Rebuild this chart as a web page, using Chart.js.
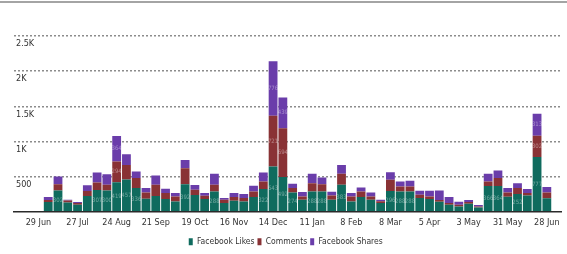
<!DOCTYPE html>
<html>
<head>
<meta charset="utf-8">
<script src="https://cdn.jsdelivr.net/npm/chart.js@4"></script>
<style>
    html, body { margin: 0; padding: 0; background: #fff; overflow: hidden; }
    .frame { position: relative; width: 567px; height: 254px; }
    .topline { position: absolute; left: 0; top: 1px; width: 567px; border-top: 2px solid #a4a4a4; }
    canvas { position: absolute; left: 0; top: 0; }
</style>
</head>
<body>
<div class="frame">
    <div class="topline"></div>
    <canvas id="myChart" width="567" height="254"></canvas>
</div>
<script>
const weeks = ['15 Jun', '22 Jun', '29 Jun', '6 Jul', '13 Jul', '20 Jul', '27 Jul', '3 Aug', '10 Aug', '17 Aug',
    '24 Aug', '31 Aug', '7 Sep', '14 Sep', '21 Sep', '28 Sep', '5 Oct', '12 Oct', '19 Oct', '26 Oct',
    '2 Nov', '9 Nov', '16 Nov', '23 Nov', '30 Nov', '7 Dec', '14 Dec', '21 Dec', '28 Dec', '4 Jan',
    '11 Jan', '18 Jan', '25 Jan', '1 Feb', '8 Feb', '15 Feb', '22 Feb', '1 Mar', '8 Mar', '15 Mar',
    '22 Mar', '29 Mar', '5 Apr', '12 Apr', '19 Apr', '26 Apr', '3 May', '10 May', '17 May', '24 May',
    '31 May', '7 Jun', '14 Jun', '21 Jun', '28 Jun', '5 Jul'];

const likes = [null, null, null,
    138, 302, 132, 100, 222, 307, 300, 419, 457, 336, 185, 225, 180, 146, 392, 238,
    180, 288, 123, 156, 146, 208, 322, 643, 492, 274, 170, 288, 288, 170, 383, 146,
    208, 170, 123, 296, 288, 288, 194, 180, 140, 100, 75, 113, 61, 366, 364, 211,
    252, 231, 777, 190, null];

const comments = [null, null, null,
    30, 90, 28, 23, 71, 108, 83, 294, 209, 142, 89, 158, 85, 71, 227, 74,
    47, 95, 47, 52, 48, 80, 108, 721, 694, 62, 47, 118, 104, 62, 157, 71,
    80, 47, 27, 157, 71, 71, 47, 37, 25, 23, 25, 24, 14, 64, 114, 63,
    84, 34, 302, 84, null];

const shares = [null, null, null,
    42, 108, 10, 14, 85, 142, 151, 364, 152, 94, 62, 131, 61, 48, 118, 68,
    38, 157, 24, 57, 57, 81, 127, 776, 439, 61, 62, 134, 94, 51, 126, 48,
    57, 57, 20, 107, 71, 81, 57, 81, 135, 85, 42, 29, 20, 110, 109, 62,
    70, 57, 313, 77, null];

const yTicks = [0, 500, 1000, 1500, 2000, 2500];
const yTickLabels = ['', '500', '1K', '1.5K', '2K', '2.5K'];

const fontFamily = "'Liberation Sans Narrow', 'DejaVu Sans Condensed', 'Liberation Sans', sans-serif";

// small value labels printed inside the stacked segments
const segmentLabels = {
    id: 'segmentLabels',
    afterDatasetsDraw(chart) {
        const ctx = chart.ctx;
        ctx.save();
        ctx.font = '6px ' + fontFamily;
        ctx.fillStyle = 'rgba(255,255,255,0.4)';
        ctx.textAlign = 'center';
        ctx.textBaseline = 'middle';
        chart.data.datasets.forEach((ds, i) => {
            chart.getDatasetMeta(i).data.forEach((bar, j) => {
                const v = ds.data[j];
                if (v == null) return;
                const h = Math.abs(bar.base - bar.y);
                if (h < 16) return;
                ctx.fillText(String(v), bar.x, (bar.y + bar.base) / 2);
            });
        });
        ctx.restore();
    }
};

document.addEventListener('DOMContentLoaded', () => {
    const ctx = document.getElementById('myChart');
    new Chart(ctx, {
        type: 'bar',
        data: {
            labels: weeks,
            datasets: [
                {
                    label: 'Facebook Likes',
                    data: likes,
                    backgroundColor: '#0f6b5e',
                },{
                    label: 'Comments',
                    data: comments,
                    backgroundColor: '#893235',
                },{
                    label: 'Facebook Shares',
                    data: shares,
                    backgroundColor: '#6a3daa',
                }
            ]
        },
        plugins: [segmentLabels],
        options: {
            responsive: false,
            animation: false,
            datasets: {
                bar: { barPercentage: 0.9, categoryPercentage: 1 }
            },
            layout: {
                padding: { left: 10, right: 5.5, top: 36, bottom: -2 }
            },
            scales: {
                x: {
                    stacked: true,
                    grid: { display: false, drawTicks: false },
                    border: { display: true, color: '#2a2a2a', width: 1.5 },
                    ticks: {
                        autoSkip: false,
                        maxRotation: 0,
                        padding: 6,
                        color: '#333',
                        font: { family: fontFamily, size: 9 },
                        callback: (v, i) => (i >= 2 && (i - 2) % 4 === 0 && i <= 54) ? weeks[i] : ''
                    }
                },
                y: {
                    stacked: true,
                    min: 0,
                    max: 2500,
                    afterBuildTicks: (axis) => { axis.ticks = yTicks.map(v => ({ value: v })); },
                    border: { display: false, dash: [2, 2] },
                    grid: {
                        drawTicks: false,
                        color: (c) => c.tick && c.tick.value === 0 ? 'rgba(0,0,0,0)' : '#8c8c8c',
                        lineWidth: 1.5
                    },
                    ticks: {
                        mirror: true,
                        padding: 2,
                        labelOffset: 8,
                        color: '#333',
                        font: { family: fontFamily, size: 9 },
                        callback: (v) => yTickLabels[yTicks.indexOf(v)]
                    }
                }
            },
            plugins: {
                tooltip: { enabled: false },
                legend: {
                    position: 'bottom',
                    labels: {
                        boxWidth: 4,
                        boxHeight: 7,
                        padding: 3,
                        color: '#333',
                        font: { family: fontFamily, size: 8.5 }
                    }
                }
            }
        }
    });
});
</script>
</body>
</html>
